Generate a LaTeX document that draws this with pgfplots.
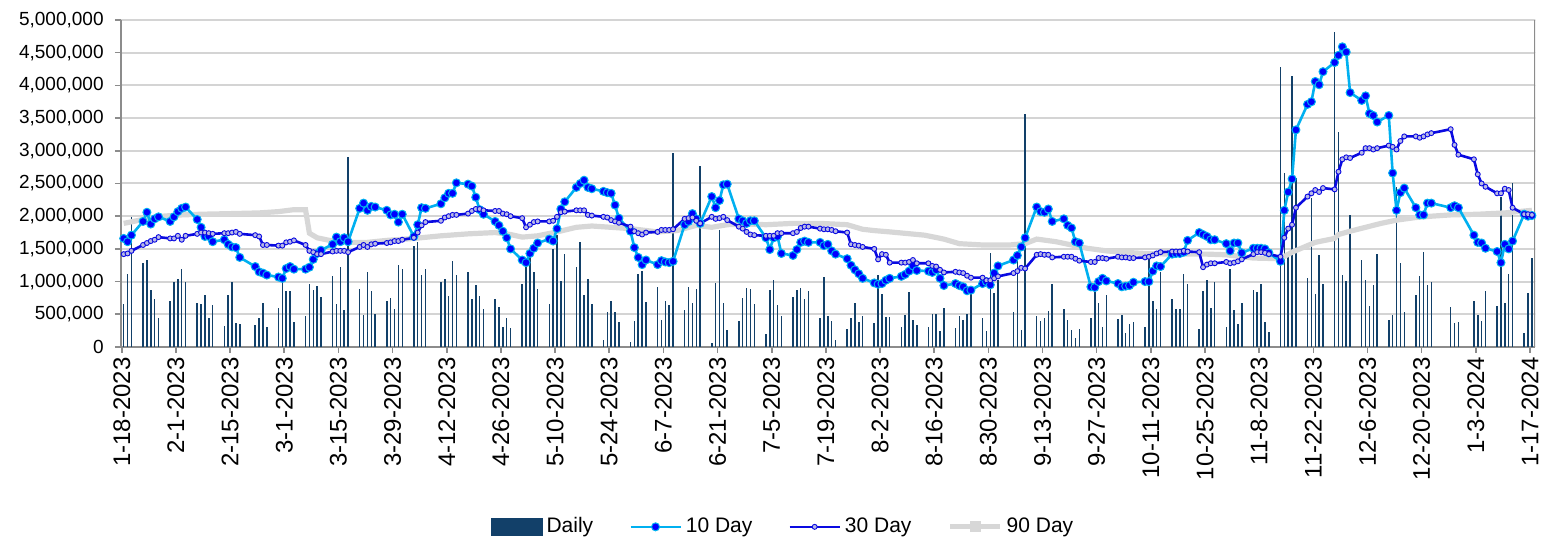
\documentclass[border=0pt]{standalone}
\usepackage{fontspec}
\setmainfont{Liberation Sans}
\usepackage{pgfplots}
\usepackage{pgfplotstable}
\pgfplotsset{compat=1.18}

\definecolor{daily}{RGB}{18,64,105}
\definecolor{c10}{RGB}{0,176,240}
\definecolor{m10}{RGB}{0,0,255}
\definecolor{c30}{RGB}{10,10,225}
\definecolor{m30}{RGB}{185,185,230}
\definecolor{c90}{RGB}{215,215,215}
\definecolor{gridc}{RGB}{212,212,212}
\definecolor{axisc}{RGB}{140,140,140}

\pgfplotsset{
  barlegend/.style={legend image code/.code={\fill[daily] (0pt,-4pt) rectangle (25pt,4pt);}},
  linelegend/.style={legend image code/.code={\draw[##1, mark repeat=2, mark phase=2] plot coordinates {(0pt,0pt) (12.5pt,0pt) (25pt,0pt)};}},
}

% volumes in millions; d = calendar days after 1-18-2023
\pgfplotstableread{
d daily ma10 ma30
0 0.65 1.66 1.42
1 1.11 1.61 1.43
2 1.99 1.71 1.47
5 1.28 1.92 1.56
6 1.33 2.06 1.59
7 0.87 1.88 1.62
8 0.74 1.96 1.64
9 0.44 1.99 1.68
12 0.71 1.92 1.66
13 1.00 1.99 1.66
14 1.04 2.07 1.70
15 1.19 2.12 1.64
16 1.00 2.14 1.70
19 0.68 1.95 1.73
20 0.65 1.83 1.75
21 0.80 1.69 1.75
22 0.45 1.69 1.74
23 0.64 1.61 1.73
26 0.32 1.64 1.74
27 0.80 1.57 1.74
28 1.00 1.53 1.75
29 0.36 1.52 1.76
30 0.35 1.37 1.73
34 0.34 1.23 1.71
35 0.45 1.15 1.69
36 0.68 1.13 1.56
37 0.30 1.10 1.56
40 0.60 1.07 1.55
41 1.00 1.05 1.55
42 0.86 1.20 1.60
43 0.86 1.23 1.61
44 0.38 1.19 1.63
47 0.47 1.19 1.56
48 0.97 1.22 1.47
49 0.87 1.34 1.45
50 0.93 1.43 1.42
51 0.76 1.48 1.42
54 1.08 1.57 1.46
55 0.65 1.68 1.47
56 1.22 1.61 1.47
57 0.56 1.67 1.47
58 2.90 1.61 1.45
61 0.89 2.12 1.53
62 0.49 2.20 1.56
63 1.14 2.09 1.53
64 0.86 2.15 1.57
65 0.50 2.14 1.58
68 0.71 2.09 1.59
69 0.75 2.02 1.60
70 0.58 2.03 1.62
71 1.25 1.91 1.62
72 1.19 2.03 1.64
75 1.55 1.69 1.67
76 1.60 1.87 1.75
77 1.10 2.13 1.86
78 1.20 2.12 1.91
82 1.00 2.19 1.93
83 1.04 2.28 1.98
84 0.78 2.35 2.00
85 1.31 2.35 2.02
86 1.10 2.51 2.02
89 1.14 2.49 2.04
90 0.74 2.46 2.08
91 0.95 2.29 2.11
92 0.78 2.10 2.11
93 0.58 2.03 2.09
96 0.73 1.92 2.08
97 0.61 1.86 2.08
98 0.30 1.77 2.04
99 0.45 1.67 2.03
100 0.29 1.50 2.00
103 0.97 1.33 1.97
104 1.28 1.29 1.83
105 1.43 1.43 1.87
106 1.15 1.51 1.91
107 0.89 1.59 1.92
110 0.65 1.65 1.92
111 1.50 1.62 1.93
112 1.71 1.81 1.99
113 1.01 2.11 2.06
114 1.42 2.22 2.07
117 1.23 2.44 2.09
118 1.60 2.50 2.09
119 0.80 2.55 2.09
120 1.04 2.44 2.02
121 0.65 2.42 2.01
124 0.10 2.38 1.99
125 0.54 2.36 1.98
126 0.70 2.35 1.94
127 0.54 2.17 1.92
128 0.38 1.97 1.90
131 0.07 1.77 1.84
132 0.39 1.52 1.77
133 1.11 1.37 1.74
134 1.16 1.26 1.72
135 0.69 1.33 1.75
138 0.92 1.26 1.76
139 0.41 1.32 1.79
140 0.70 1.30 1.79
141 0.64 1.29 1.79
142 2.96 1.31 1.80
145 0.57 1.87 1.96
146 0.91 1.92 1.97
147 0.68 2.04 1.98
148 0.88 1.96 1.93
149 2.77 1.89 1.89
152 0.06 2.30 1.99
153 0.98 2.13 1.96
154 1.79 2.24 1.97
155 0.68 2.48 1.99
156 0.26 2.49 1.94
159 0.39 1.96 1.84
160 0.75 1.93 1.81
161 0.90 1.89 1.76
162 0.88 1.93 1.72
163 0.66 1.93 1.71
166 0.20 1.67 1.70
167 0.87 1.49 1.70
168 1.02 1.67 1.70
169 0.64 1.69 1.74
170 0.48 1.43 1.74
173 0.76 1.40 1.74
174 0.87 1.49 1.76
175 0.90 1.60 1.82
176 0.74 1.62 1.84
177 0.86 1.60 1.84
180 0.44 1.60 1.81
181 1.07 1.55 1.80
182 0.48 1.57 1.80
183 0.39 1.47 1.79
184 0.11 1.42 1.77
187 0.28 1.35 1.75
188 0.45 1.25 1.57
189 0.67 1.18 1.56
190 0.38 1.12 1.55
191 0.47 1.05 1.53
194 0.37 0.98 1.50
195 1.10 0.96 1.34
196 0.81 0.97 1.42
197 0.46 1.02 1.41
198 0.46 1.05 1.29
201 0.30 1.08 1.29
202 0.49 1.11 1.29
203 0.84 1.16 1.30
204 0.41 1.24 1.33
205 0.34 1.17 1.28
208 0.31 1.16 1.28
209 0.50 1.14 1.24
210 0.51 1.18 1.23
211 0.24 1.05 1.18
212 0.60 0.94 1.14
215 0.29 0.97 1.15
216 0.48 0.94 1.14
217 0.42 0.92 1.13
218 0.50 0.86 1.09
219 0.85 0.87 1.06
222 0.45 0.97 1.06
223 0.24 1.00 1.02
224 1.43 0.95 1.02
225 0.83 1.13 1.05
226 1.03 1.24 1.08
230 0.53 1.33 1.13
231 1.43 1.40 1.16
232 0.26 1.53 1.21
233 3.57 1.67 1.20
236 0.47 2.14 1.41
237 0.40 2.07 1.42
238 0.45 2.06 1.41
239 0.55 2.11 1.41
240 0.97 1.92 1.37
243 0.58 1.96 1.38
244 0.41 1.86 1.38
245 0.26 1.82 1.38
246 0.14 1.61 1.35
247 0.28 1.59 1.32
250 0.45 0.92 1.30
251 0.84 0.91 1.30
252 0.67 1.00 1.36
253 0.31 1.05 1.36
254 0.80 1.01 1.35
257 0.43 0.97 1.38
258 0.49 0.92 1.37
259 0.21 0.93 1.37
260 0.35 0.94 1.36
261 0.38 0.99 1.36
264 0.30 1.00 1.37
265 1.42 1.00 1.38
266 0.70 1.16 1.40
267 0.58 1.24 1.43
268 1.15 1.23 1.45
271 0.73 1.42 1.46
272 0.58 1.43 1.46
273 0.58 1.43 1.46
274 1.11 1.45 1.47
275 0.96 1.63 1.46
278 0.28 1.75 1.45
279 0.85 1.72 1.22
280 1.03 1.69 1.26
281 0.60 1.64 1.28
282 1.00 1.64 1.28
285 0.30 1.58 1.30
286 1.20 1.47 1.28
287 0.56 1.59 1.29
288 0.35 1.59 1.31
289 0.67 1.44 1.34
292 0.87 1.51 1.42
293 0.84 1.51 1.45
294 0.96 1.51 1.45
295 0.38 1.50 1.44
296 0.23 1.44 1.42
299 4.28 1.31 1.38
300 2.66 2.09 1.67
301 1.37 2.37 1.81
302 4.15 2.57 1.87
303 2.58 3.32 2.13
306 1.06 3.71 2.30
307 2.28 3.75 2.35
308 0.81 4.06 2.40
309 1.40 4.01 2.37
310 0.97 4.21 2.43
313 4.81 4.35 2.41
314 3.29 4.46 2.68
315 1.10 4.59 2.87
316 1.01 4.51 2.90
317 2.02 3.89 2.89
320 1.33 3.77 2.97
321 1.02 3.84 3.04
322 0.62 3.57 3.04
323 0.95 3.54 3.02
324 1.42 3.44 3.04
327 0.41 3.54 3.08
328 0.49 2.66 3.06
329 2.45 2.09 3.02
330 1.29 2.36 3.15
331 0.54 2.43 3.22
334 0.79 2.13 3.22
335 1.09 2.02 3.20
336 1.45 2.02 3.22
337 0.95 2.20 3.25
338 1.00 2.20 3.27
343 0.61 2.13 3.33
344 0.36 2.16 3.09
345 0.38 2.13 2.94
349 0.71 1.71 2.87
350 0.49 1.60 2.64
351 0.40 1.59 2.50
352 0.85 1.51 2.45
355 0.63 1.46 2.35
356 2.30 1.29 2.35
357 0.68 1.57 2.42
358 1.12 1.50 2.40
359 2.50 1.62 2.13
362 0.21 2.03 2.03
363 0.82 2.00 2.03
364 1.36 2.01 2.02
}\voldata

\pgfplotstableread{
d ma90
0 1.89
5 1.95
10 2.00
15 2.02
20 2.03
28 2.04
35 2.05
40 2.07
44 2.10
47 2.10
48 1.74
50 1.67
54 1.62
58 1.60
63 1.60
68 1.63
75 1.66
82 1.70
89 1.73
96 1.75
100 1.72
103 1.68
107 1.70
112 1.76
117 1.83
121 1.85
126 1.83
131 1.81
138 1.76
143 1.78
148 1.86
152 1.83
156 1.87
161 1.88
166 1.87
173 1.89
180 1.89
187 1.87
191 1.80
194 1.78
198 1.76
207 1.71
212 1.65
216 1.58
222 1.56
229 1.56
233 1.58
236 1.65
241 1.61
245 1.56
249 1.51
254 1.47
258 1.45
264 1.43
271 1.42
280 1.42
285 1.41
292 1.36
299 1.35
302 1.45
306 1.55
308 1.60
313 1.66
314 1.72
317 1.77
321 1.83
325 1.89
329 1.94
334 1.98
338 2.00
343 2.02
350 2.03
357 2.05
364 2.09
}\avgninety

\begin{document}
\begin{tikzpicture}
\path[use as bounding box] (0,0) rectangle (774pt,270pt);
\begin{axis}[
  at={(60.5pt,96.5pt)}, anchor=south west,
  scale only axis, width=707pt, height=163.5pt,
  xmin=-0.7, xmax=364.8, ymin=0, ymax=5,
  axis x line*=bottom, axis y line*=left,
  axis line style={-, axisc, line width=1pt},
  tick align=outside, major tick length=3pt,
  tick style={axisc, line width=0.8pt},
  xtick={-0.5,13.5,...,363.5},
  xticklabels={1-18-2023,2-1-2023,2-15-2023,3-1-2023,3-15-2023,3-29-2023,4-12-2023,4-26-2023,5-10-2023,5-24-2023,6-7-2023,6-21-2023,7-5-2023,7-19-2023,8-2-2023,8-16-2023,8-30-2023,9-13-2023,9-27-2023,10-11-2023,10-25-2023,11-8-2023,11-22-2023,12-6-2023,12-20-2023,1-3-2024,1-17-2024},
  xticklabel style={rotate=90, anchor=east, inner sep=2pt, font=\fontsize{12}{14}\selectfont},
  ytick={0,0.5,1,1.5,2,2.5,3,3.5,4,4.5,5},
  yticklabels={0,{500,000},{1,000,000},{1,500,000},{2,000,000},{2,500,000},{3,000,000},{3,500,000},{4,000,000},{4,500,000},{5,000,000}},
  yticklabel style={inner sep=1.5pt, xshift=-4pt, font=\fontsize{9.5}{11}\selectfont},
  ymajorgrids, grid style={gridc, line width=1pt},
  legend columns=4,
  legend style={at={(0.469,-0.55)}, anchor=center, draw=none, fill=none,
    font=\fontsize{10.5}{12}\selectfont,
    /tikz/every even column/.append style={column sep=16pt}},
  legend cell align=left,
]
\addplot[ycomb, daily, line width=0.75pt, mark=none, barlegend]
  table[x=d, y=daily] {\voldata};
\addlegendentry{Daily}
\addplot[c90, line width=2.6pt, mark=none, forget plot]
  table[x=d, y=ma90] {\avgninety};
\addplot[c10, line width=1.3pt, mark=*, mark size=2pt,
  mark options={fill=m10, draw=c10, line width=0.5pt}, linelegend]
  table[x=d, y=ma10] {\voldata};
\addlegendentry{10 Day}
\addplot[c30, line width=1.3pt, mark=*, mark size=1.25pt,
  mark options={fill=m30, draw=c30, line width=0.45pt}, linelegend]
  table[x=d, y=ma30] {\voldata};
\addlegendentry{30 Day}
\addlegendimage{c90, line width=2.6pt, mark=square*, mark size=1.5pt, linelegend}
\addlegendentry{90 Day}
\draw[axisc, line width=1pt] (rel axis cs:1,0) -- (rel axis cs:1,1);
\pgfplotsinvokeforeach{0,0.5,1,1.5,2,2.5,3,3.5,4,4.5,5}{
  \draw[axisc, line width=0.8pt] (axis cs:364.8,#1) -- ++(3pt,0);}
\end{axis}
\end{tikzpicture}
\end{document}
